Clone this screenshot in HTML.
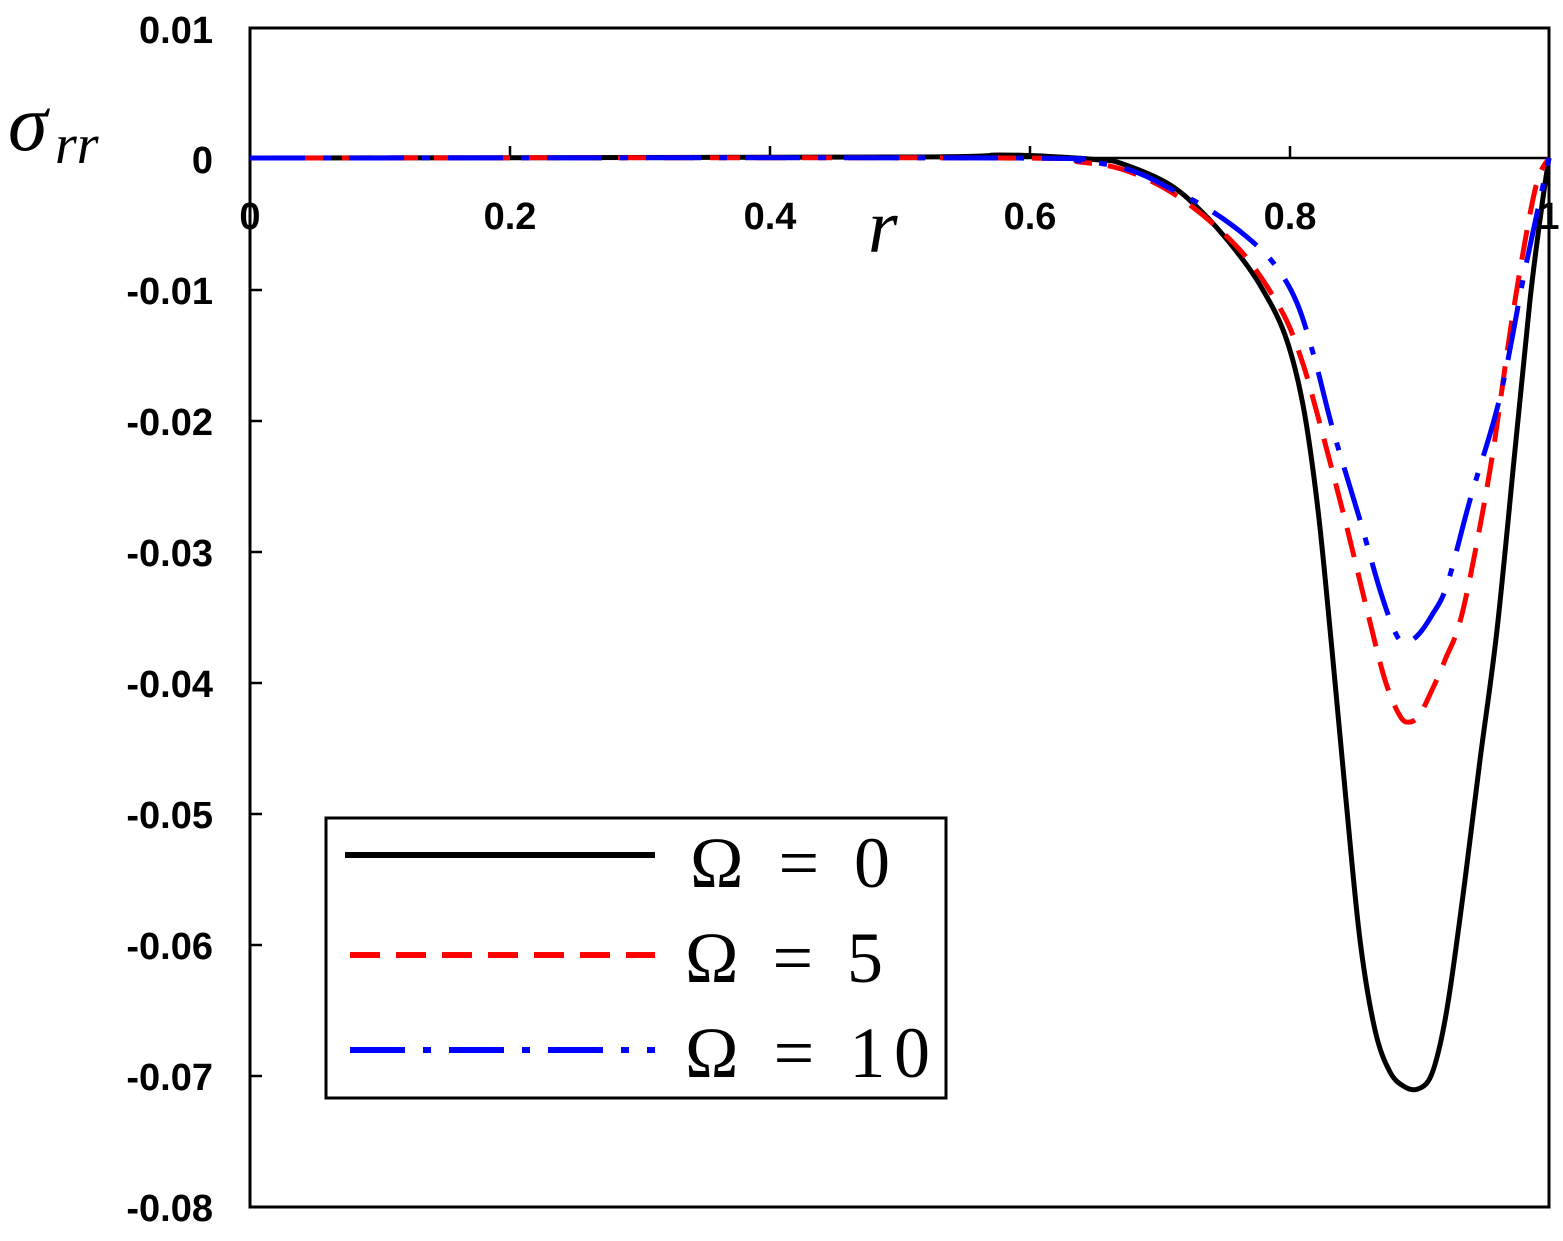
<!DOCTYPE html>
<html><head><style>body{margin:0;background:#fff}</style></head><body>
<svg id="s" width="1563" height="1236" xmlns="http://www.w3.org/2000/svg" font-family="Liberation Sans, sans-serif">
<rect width="1563" height="1236" fill="#fff"/>
<rect x="250" y="28" width="1299" height="1179" fill="none" stroke="#000" stroke-width="3"/>
<line x1="250" y1="158" x2="1549" y2="158" stroke="#000" stroke-width="2.5"/>
<g stroke="#000" stroke-width="2.5">
<line x1="510" y1="158" x2="510" y2="146"/><line x1="770" y1="158" x2="770" y2="146"/><line x1="1030" y1="158" x2="1030" y2="146"/><line x1="1290" y1="158" x2="1290" y2="146"/>
<line x1="250" y1="290" x2="262" y2="290"/><line x1="250" y1="421" x2="262" y2="421"/><line x1="250" y1="552" x2="262" y2="552"/><line x1="250" y1="683" x2="262" y2="683"/><line x1="250" y1="814" x2="262" y2="814"/><line x1="250" y1="945" x2="262" y2="945"/><line x1="250" y1="1076" x2="262" y2="1076"/>
</g>
<g font-size="38" font-weight="bold" text-anchor="end">
<text x="213" y="43">0.01</text><text x="213" y="173">0</text><text x="213" y="304">-0.01</text><text x="213" y="435">-0.02</text><text x="213" y="566">-0.03</text><text x="213" y="697">-0.04</text><text x="213" y="828">-0.05</text><text x="213" y="959">-0.06</text><text x="213" y="1090">-0.07</text><text x="213" y="1221">-0.08</text>
</g>
<g font-size="38" font-weight="bold" text-anchor="middle">
<text x="250" y="229">0</text><text x="510" y="229">0.2</text><text x="770" y="229">0.4</text><text x="1030" y="229">0.6</text><text x="1290" y="229">0.8</text><text x="1549" y="229">1</text>
</g>
<text x="8" y="150" font-family="Liberation Serif, serif" font-style="italic" font-size="80">σ</text>
<text x="55" y="163" font-family="Liberation Serif, serif" font-style="italic" font-size="56">rr</text>
<text x="868" y="252" font-family="Liberation Serif, serif" font-style="italic" font-size="76">r</text>
<g fill="none" stroke-linejoin="round" stroke-width="5">
<path id="pk" stroke="#000"/>
<path id="pr" stroke="#f00" stroke-dasharray="30 16"/>
<path id="pb" stroke="#00f" stroke-dasharray="55 18 8 18"/>
</g>
<rect x="326" y="818" width="620" height="280" fill="#fff" stroke="#000" stroke-width="3"/>
<line x1="345" y1="855" x2="655" y2="855" stroke="#000" stroke-width="6"/>
<line x1="350" y1="955" x2="655" y2="955" stroke="#f00" stroke-width="6" stroke-dasharray="30 16"/>
<line x1="350" y1="1050" x2="655" y2="1050" stroke="#00f" stroke-width="6" stroke-dasharray="55 18 8 18"/>
<g font-family="Liberation Serif, serif" font-size="72">
<text x="690" y="887" textLength="200">Ω = 0</text><text x="685" y="982" textLength="198">Ω = 5</text><text x="685" y="1077" textLength="245">Ω = 10</text>
</g>
</svg>
<script>
function sm(id,pts){var p=[];for(var i=0;i<pts.length;i+=2)p.push([pts[i],pts[i+1]]);
var d="M"+p[0][0]+","+p[0][1];
for(var i=0;i<p.length-1;i++){var a=p[i-1]||p[i],b=p[i],c=p[i+1],e=p[i+2]||c;
d+=" C"+(b[0]+(c[0]-a[0])/6)+","+(b[1]+(c[1]-a[1])/6)+" "+(c[0]-(e[0]-b[0])/6)+","+(c[1]-(e[1]-b[1])/6)+" "+c[0]+","+c[1];}
document.getElementById(id).setAttribute("d",d);}
sm("pk",[250,158,900,157,1000,155,1060,157,1100,160,1120,163,1167,183,1200,210,1233,247,1260,285,1285,335,1303,405,1318,510,1332,650,1346,800,1360,940,1375,1030,1390,1072,1405,1087,1418,1089,1430,1078,1440,1045,1450,990,1465,880,1480,760,1497,630,1515,450,1530,300,1542,205,1549,158]);
sm("pr",[250,158,1000,158,1080,162,1130,172,1183,200,1240,250,1280,308,1300,355,1317,413,1345,520,1367,610,1385,680,1400,716,1410,722,1420,714,1432,690,1445,660,1463,610,1490,470,1513,313,1535,190,1549,158]);
sm("pb",[250,158,1000,158,1080,161,1130,170,1173,190,1210,210,1247,237,1275,265,1297,303,1315,360,1333,430,1360,520,1380,590,1395,632,1405,643,1418,635,1432,615,1447,585,1470,500,1500,397,1525,270,1549,158]);
</script>
</body></html>
